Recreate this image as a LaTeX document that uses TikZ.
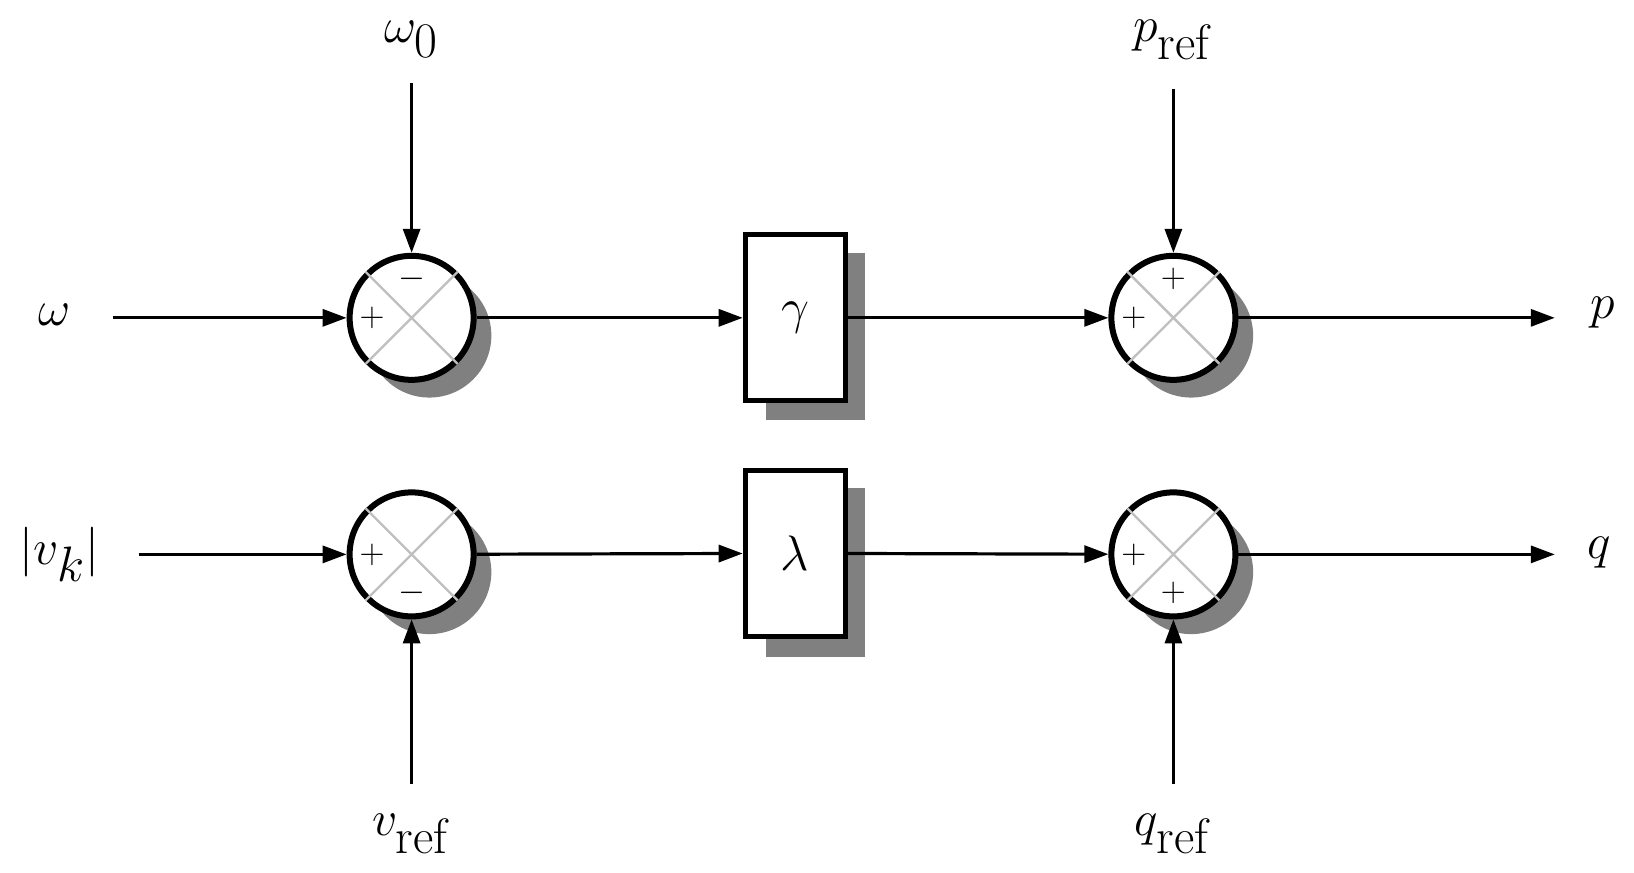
\documentclass[tikz,border=0pt]{standalone}
\usetikzlibrary{arrows.meta}
\begin{document}
\begin{tikzpicture}[x=0.521pt,y=-0.521pt,
  lab/.style={font=\fontsize{36}{40}\selectfont,inner sep=0},
  sgn/.style={font=\fontsize{17}{18}\selectfont,inner sep=0},
  conn/.style={line width=1.6pt,-{Triangle[length=12pt,width=8.5pt]}},
  sum/.style={circle,draw,line width=3pt,fill=white,minimum size=62pt,inner sep=0},
  blk/.style={draw,line width=2.4pt,fill=white,minimum width=50pt,minimum height=83pt,inner sep=0,font=\fontsize{36}{40}\selectfont},
  shd/.style={fill=black!50}]
\useasboundingbox (0,0) rectangle (1568,837);
% shadows
\foreach \x/\y in {395/305,1126/305,395/532,1126/532}
  \fill[shd] (\x+17,\y+17) circle (31pt);
\fill[shd] (735,243) rectangle (830,403);
\fill[shd] (735,468) rectangle (830,630);
% sums
\node[sum] (s1) at (395,305) {};
\node[sum] (s2) at (1126,305) {};
\node[sum] (s3) at (395,532) {};
\node[sum] (s4) at (1126,532) {};
\foreach \s in {s1,s2,s3,s4}
  \draw[black!25,line width=1.2pt] (\s.45) -- (\s.225) (\s.135) -- (\s.315);
% signs
\node[sgn] at (357,305) {$+$};
\node[sgn] at (395,268) {$-$};
\node[sgn] at (1088,305) {$+$};
\node[sgn] at (1126,268) {$+$};
\node[sgn] at (357,532) {$+$};
\node[sgn] at (395,569) {$-$};
\node[sgn] at (1088,532) {$+$};
\node[sgn] at (1126,569) {$+$};
% blocks
\node[blk] (g) at (763,305) {$\gamma$};
\node[blk] (l) at (763,531) {$\lambda$};
% labels
\node[lab] (w) at (52,302) {$\omega$};
\node[lab] (vk) at (57,532) {$|v_k|$};
\node[lab] (w0) at (395,38) {$\omega_0$};
\node[lab] (pr) at (1126,38) {$p_{\mathrm{ref}}$};
\node[lab] (vr) at (395,800) {$v_{\mathrm{ref}}$};
\node[lab] (qr) at (1126,800) {$q_{\mathrm{ref}}$};
\node[lab] (p) at (1538,300) {$p$};
\node[lab] (q) at (1535,530) {$q$};
\coordinate (pe) at (1492,305);
\coordinate (qe) at (1492,532);
% connectors
\draw[conn] (108,305) -- (s1);
\draw[conn] (133,532) -- (s3);
\draw[conn] (395,80) -- (s1);
\draw[conn] (1126,85) -- (s2);
\draw[conn] (395,752) -- (s3);
\draw[conn] (1126,752) -- (s4);
\draw[conn] (s1) -- (g);
\draw[conn] (g) -- (s2);
\draw[conn] (s2) -- (pe);
\draw[conn] (s3) -- (l);
\draw[conn] (l) -- (s4);
\draw[conn] (s4) -- (qe);
\end{tikzpicture}
\end{document}
